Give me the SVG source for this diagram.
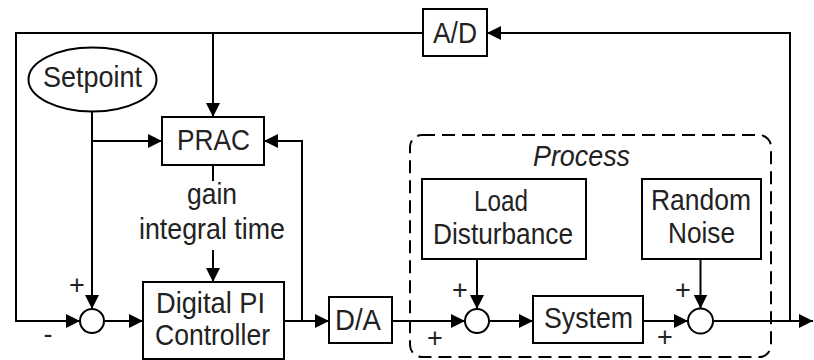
<svg xmlns="http://www.w3.org/2000/svg" width="814" height="360" viewBox="0 0 814 360">
<defs>
<marker id="arr" markerUnits="userSpaceOnUse" markerWidth="14" markerHeight="14" refX="14" refY="7" orient="auto">
<path d="M0,0 L14,7 L0,14 z" fill="#000"/>
</marker>
<style>
.box{fill:#fff;stroke:#000;stroke-width:2}
.lbl{font-family:"Liberation Sans",Arial,sans-serif;font-size:30px;fill:#222;text-anchor:middle}
.sg{font-family:"Liberation Sans",Arial,sans-serif;font-size:27px;fill:#222;text-anchor:middle}
.ln{fill:none;stroke:#000;stroke-width:2}
.ar{fill:none;stroke:#000;stroke-width:2;marker-end:url(#arr)}
</style>
</defs>
<rect width="814" height="360" fill="#fff"/>
<g id="process-boundary">
<rect x="410" y="135" width="361" height="222" rx="12" fill="none" stroke="#000" stroke-width="2" stroke-dasharray="13 7"/>
<text class="lbl" x="581.5" y="166" font-style="italic" textLength="97" lengthAdjust="spacingAndGlyphs">Process</text>
</g>
<g id="connectors">
<path class="ar" d="M790 321 V33 H487"/>
<path class="ar" d="M423 33 H16 V321 H80"/>
<path class="ar" d="M213 33 V117"/>
<path class="ar" d="M92 112 V309"/>
<path class="ar" d="M92 141 H162"/>
<path class="ar" d="M104 321 H143"/>
<path class="ln" d="M213 165 V181"/>
<path class="ar" d="M213 250 V282"/>
<path class="ar" d="M284 321 H329"/>
<path class="ar" d="M302 321 V141 H264"/>
<path class="ar" d="M392 321 H465"/>
<path class="ar" d="M477 259 V309"/>
<path class="ar" d="M489 321 H533"/>
<path class="ar" d="M643 321 H688"/>
<path class="ar" d="M700.5 259 V308.5"/>
<path class="ar" d="M713 321 H813"/>
<text class="lbl" x="212" y="204" textLength="50" lengthAdjust="spacingAndGlyphs">gain</text>
<text class="lbl" x="212" y="239" textLength="146" lengthAdjust="spacingAndGlyphs">integral time</text>
<text class="sg" x="77" y="294">+</text>
<text class="sg" x="48" y="343">-</text>
<text class="sg" x="460" y="299">+</text>
<text class="sg" x="435" y="347">+</text>
<text class="sg" x="683" y="299">+</text>
<text class="sg" x="665" y="346">+</text>
</g>
<g id="setpoint">
<ellipse cx="92.5" cy="79.5" rx="64" ry="32" class="box"/>
<text class="lbl" x="92.5" y="87" textLength="99" lengthAdjust="spacingAndGlyphs">Setpoint</text>
</g>
<g id="ad">
<rect x="423" y="9" width="64" height="47" class="box"/>
<text class="lbl" x="455" y="43" textLength="44" lengthAdjust="spacingAndGlyphs">A/D</text>
</g>
<g id="prac">
<rect x="162" y="117" width="102" height="48" class="box"/>
<text class="lbl" x="213.5" y="150" textLength="73" lengthAdjust="spacingAndGlyphs">PRAC</text>
</g>
<g id="sum1">
<circle cx="92" cy="321" r="12" class="box"/>
</g>
<g id="controller">
<rect x="143" y="282" width="141" height="77" class="box"/>
<text class="lbl" x="210.5" y="313" textLength="109" lengthAdjust="spacingAndGlyphs">Digital PI</text>
<text class="lbl" x="212.5" y="345" textLength="115" lengthAdjust="spacingAndGlyphs">Controller</text>
</g>
<g id="da">
<rect x="329" y="297" width="63" height="46" class="box"/>
<text class="lbl" x="358" y="330" textLength="46" lengthAdjust="spacingAndGlyphs">D/A</text>
</g>
<g id="load">
<rect x="422" y="179" width="164" height="80" class="box"/>
<text class="lbl" x="501" y="211" textLength="54" lengthAdjust="spacingAndGlyphs">Load</text>
<text class="lbl" x="503" y="244" textLength="140" lengthAdjust="spacingAndGlyphs">Disturbance</text>
</g>
<g id="noise">
<rect x="642" y="179" width="119" height="80" class="box"/>
<text class="lbl" x="701" y="210" textLength="100" lengthAdjust="spacingAndGlyphs">Random</text>
<text class="lbl" x="701.5" y="243" textLength="67" lengthAdjust="spacingAndGlyphs">Noise</text>
</g>
<g id="sum2">
<circle cx="477" cy="321" r="12" class="box"/>
</g>
<g id="system">
<rect x="533" y="296" width="110" height="47" class="box"/>
<text class="lbl" x="588.5" y="328" textLength="89" lengthAdjust="spacingAndGlyphs">System</text>
</g>
<g id="sum3">
<circle cx="700.5" cy="321" r="12.5" class="box"/>
</g>
</svg>
